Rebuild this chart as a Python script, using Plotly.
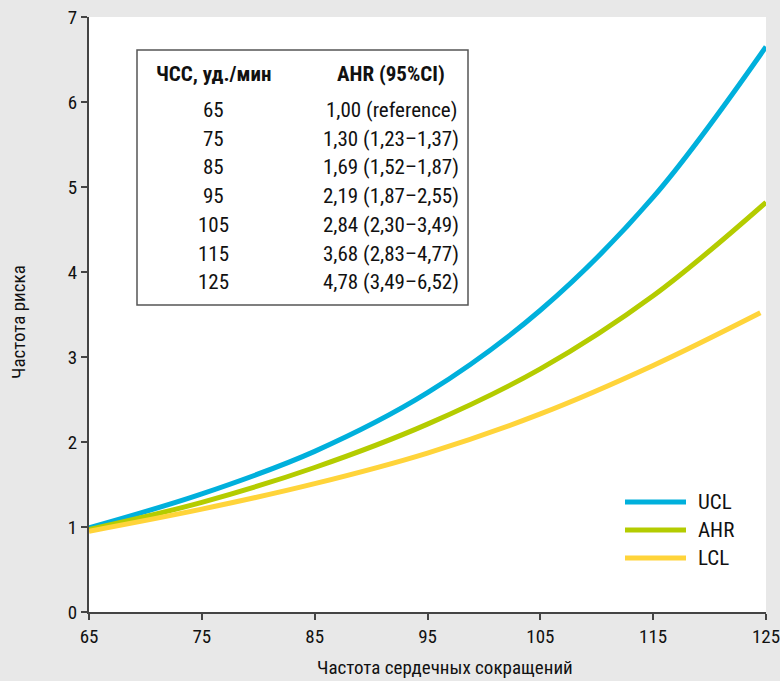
import plotly.graph_objects as go

# ---- data ----
hr = [65, 75, 85, 95, 105, 115, 125]
ucl = [0.99, 1.39, 1.89, 2.58, 3.55, 4.88, 6.65]
ahr = [0.97, 1.29, 1.70, 2.21, 2.86, 3.72, 4.82]
lcl_x = [65, 75, 85, 95, 105, 115, 124.5]
lcl = [0.95, 1.21, 1.51, 1.87, 2.33, 2.90, 3.52]

series_names = ["UCL", "AHR", "LCL"]
series_colors = ["#00b0dc", "#b4cc00", "#ffd43a"]

table_header = ["ЧСС, уд./мин", "AHR (95%CI)"]
table_hr = ["65", "75", "85", "95", "105", "115", "125"]
table_ahr = ["1,00 (reference)", "1,30 (1,23–1,37)", "1,69 (1,52–1,87)",
             "2,19 (1,87–2,55)", "2,84 (2,30–3,49)", "3,68 (2,83–4,77)",
             "4,78 (3,49–6,52)"]

x_ticks = [65, 75, 85, 95, 105, 115, 125]
y_ticks = [0, 1, 2, 3, 4, 5, 6, 7]

FONT = "Liberation Sans Narrow, Roboto Condensed, Roboto, sans-serif"
BG = "#e8e8e8"
W, H = 780, 681
L, R, T, B = 89, 14, 17, 69


def px(xp):
    return (xp - L) / (W - L - R)


def py(yp):
    return (H - B - yp) / (H - T - B)


def ann(x, y, text, size, xanchor="center", angle=0):
    return dict(xref="paper", yref="paper", x=px(x), y=py(y), text=text,
                showarrow=False, xanchor=xanchor, yanchor="middle",
                textangle=angle,
                font=dict(size=size, color="#111", family=FONT))


fig = go.Figure()
xs = [hr, hr, lcl_x]
ys = [ucl, ahr, lcl]
for name, color, xv, yv in zip(series_names, series_colors, xs, ys):
    fig.add_trace(go.Scatter(x=xv, y=yv, mode="lines", name=name,
                             line=dict(color=color, width=5, shape="spline"),
                             showlegend=False))

shapes = []
annotations = []

# table box
shapes.append(dict(type="rect", xref="paper", yref="paper",
                   x0=px(137), x1=px(468), y0=py(305), y1=py(50),
                   line=dict(color="#555555", width=1.5), fillcolor="white",
                   layer="below"))
col1, col2 = 213, 391
annotations.append(ann(col1, 74, "<b>" + table_header[0] + "</b>", 21))
annotations.append(ann(col2, 74, "<b>" + table_header[1] + "</b>", 21))
for i, (a, b) in enumerate(zip(table_hr, table_ahr)):
    yy = 110 + i * 28.7
    annotations.append(ann(col1, yy, a, 21))
    annotations.append(ann(col2, yy, b, 21))

# legend (manual)
for i, (name, color) in enumerate(zip(series_names, series_colors)):
    yy = 502 + i * 28
    shapes.append(dict(type="line", xref="paper", yref="paper",
                       x0=px(625), x1=px(686), y0=py(yy), y1=py(yy),
                       line=dict(color=color, width=5)))
    annotations.append(ann(696, yy, name, 21, xanchor="left"))

# axis titles
annotations.append(ann(445, 667, "Частота сердечных сокращений", 19))
annotations.append(ann(18, 322, "Частота риска", 19, angle=-90))

fig.update_layout(
    width=W, height=H,
    margin=dict(l=L, r=R, t=T, b=B, autoexpand=False),
    paper_bgcolor=BG,
    plot_bgcolor="white",
    shapes=shapes,
    annotations=annotations,
    font=dict(family=FONT, size=17, color="#111"),
    hovermode=False,
)
fig.update_xaxes(range=[65, 125], tickvals=x_ticks, showgrid=False, zeroline=False,
                 automargin=False, ticklabeloverflow="allow",
                 showline=True, linecolor="#444", linewidth=2, ticks="outside",
                 ticklen=6, tickcolor="#444", tickwidth=1.5,
                 tickfont=dict(size=19, color="#111", family=FONT))
fig.update_yaxes(range=[0, 7], tickvals=y_ticks, showgrid=False, zeroline=False,
                 automargin=False, ticklabeloverflow="allow",
                 showline=True, linecolor="#444", linewidth=2, ticks="outside",
                 ticklen=6, tickcolor="#444", tickwidth=1.5,
                 tickfont=dict(size=19, color="#111", family=FONT))

fig.write_html(
    "out.html",
    config={"displayModeBar": False},
    post_script="document.body.style.margin='0px';"
                "document.body.style.background='" + BG + "';"
                "document.body.style.overflow='hidden';",
)
